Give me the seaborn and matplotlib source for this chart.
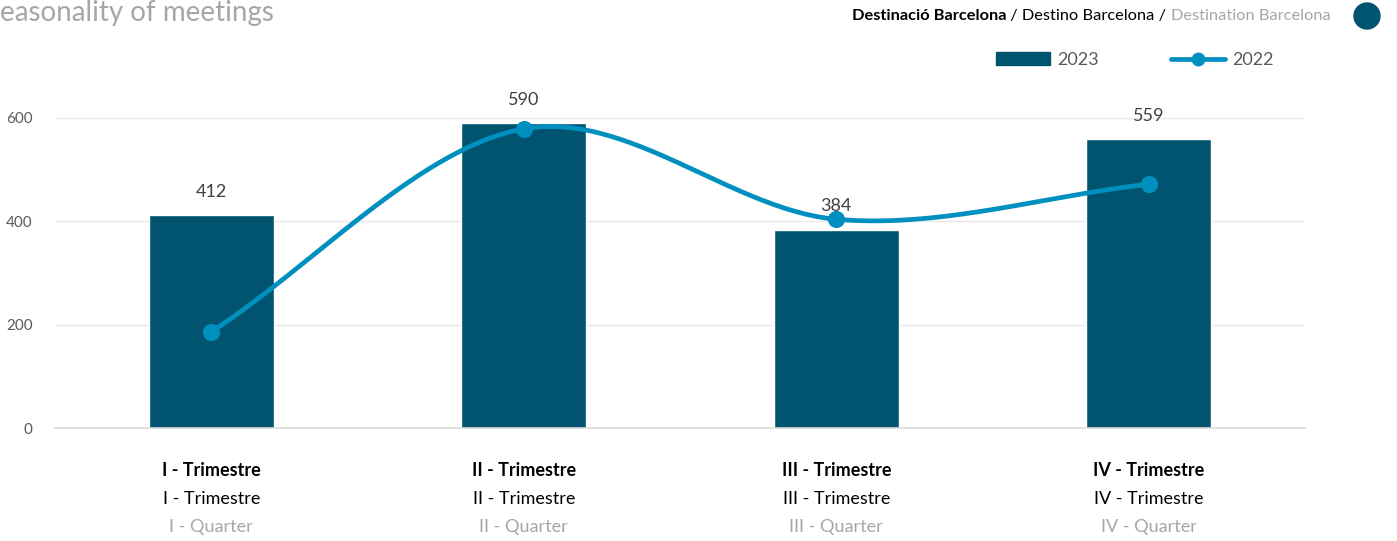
import numpy as np
import pandas as pd
import matplotlib
matplotlib.use("Agg")
import matplotlib.pyplot as plt
import matplotlib.transforms as mtransforms
from matplotlib.lines import Line2D
from matplotlib.patches import Patch, Circle
import seaborn as sns

# Data
quarters = ["I", "II", "III", "IV"]
label_ca = ["I - Trimestre", "II - Trimestre", "III - Trimestre", "IV - Trimestre"]
label_es = ["I - Trimestre", "II - Trimestre", "III - Trimestre", "IV - Trimestre"]
label_en = ["I - Quarter", "II - Quarter", "III - Quarter", "IV - Quarter"]
meetings_2023 = [412, 590, 384, 559]
meetings_2022 = [186, 579, 404, 472]

BAR = "#00546F"
LINE = "#0090C0"
GRAY = "#A6A6A6"
DARK = "#595959"

sns.set_style("white")
plt.rcParams["font.family"] = ["Lato", "DejaVu Sans"]

df = pd.DataFrame({"quarter": quarters, "y2023": meetings_2023, "y2022": meetings_2022})

fig = plt.figure(figsize=(13.97, 5.41), dpi=100)
ax = fig.add_axes([55 / 1397, 1 - 428 / 541, 1250 / 1397, (428 - 66.3) / 541])

sns.barplot(data=df, x="quarter", y="y2023", color=BAR, width=0.4, saturation=1, ax=ax)

# smooth line (Catmull-Rom through the 2022 points, like Excel smoothing)
def smooth(xs, ys, n=60):
    xs = np.asarray(xs, float)
    ys = np.asarray(ys, float)
    px = np.concatenate([[2 * xs[0] - xs[1]], xs, [2 * xs[-1] - xs[-2]]])
    py = np.concatenate([[2 * ys[0] - ys[1]], ys, [2 * ys[-1] - ys[-2]]])
    outx, outy = [], []
    t = np.linspace(0, 1, n)
    for i in range(1, len(px) - 2):
        for p, out in ((px, outx), (py, outy)):
            p0, p1, p2, p3 = p[i - 1], p[i], p[i + 1], p[i + 2]
            out.extend(0.5 * (2 * p1 + (-p0 + p2) * t + (2 * p0 - 5 * p1 + 4 * p2 - p3) * t ** 2
                              + (-p0 + 3 * p1 - 3 * p2 + p3) * t ** 3))
    return np.array(outx), np.array(outy)

xpos = np.arange(len(quarters))
sx, sy = smooth(xpos, meetings_2022)
ax.plot(sx, sy, color=LINE, lw=3.4, solid_capstyle="round", zorder=3)
sns.scatterplot(x=xpos, y=meetings_2022, color=LINE, s=130, edgecolor=LINE, zorder=4, ax=ax)

# data labels for 2023
for x, v in zip(xpos, meetings_2023):
    ax.annotate(str(v), (x, v), xytext=(0, 11), textcoords="offset points",
                ha="center", va="bottom", fontsize=13, color="#404040")

ax.set_xlim(-0.5, 3.5)
ax.set_ylim(0, 700)
ax.set_yticks([0, 200, 400, 600])
ax.tick_params(axis="y", length=0, labelsize=11, labelcolor=DARK, pad=16)
ax.yaxis.grid(True, color="#EAEAEA", lw=1)
ax.set_axisbelow(True)
ax.set_xlabel("")
ax.set_ylabel("")
for s in ["left", "right", "top"]:
    ax.spines[s].set_visible(False)
ax.spines["bottom"].set_color("#D9D9D9")
ax.spines["bottom"].set_linewidth(1.2)
ax.set_xticks(np.arange(-0.5, 4, 1))
ax.set_xticklabels([])
ax.tick_params(axis="x", length=7, color="#D9D9D9", width=1.2)

# three-line category labels
trans = mtransforms.blended_transform_factory(ax.transData, fig.transFigure)
for x, a, b, c in zip(xpos, label_ca, label_es, label_en):
    ax.text(x, 1 - 471 / 541, a, transform=trans, ha="center", va="center",
            fontsize=13, fontweight="bold", color="black")
    ax.text(x, 1 - 499 / 541, b, transform=trans, ha="center", va="center",
            fontsize=13, color="black")
    ax.text(x, 1 - 527 / 541, c, transform=trans, ha="center", va="center",
            fontsize=13, color=GRAY)

# legend
handles = [Patch(color=BAR, label="2023"),
           Line2D([0], [0], color=LINE, lw=3.4, marker="o", markersize=9, label="2022")]
fig.legend(handles=handles, loc="center", bbox_to_anchor=(1135 / 1397, 1 - 60 / 541),
           ncol=2, frameon=False, fontsize=13, handlelength=3.0, columnspacing=4,
           handletextpad=0.4, labelcolor=DARK)

# header
fig.text(0, 1 - 13 / 541, "easonality of meetings", fontsize=20, color=GRAY,
         ha="left", va="center")
t1 = fig.text(852 / 1397, 1 - 16 / 541, "Destinació Barcelona", fontsize=11.8,
              fontweight="bold", color="black", ha="left", va="center")
fig.canvas.draw()
t2 = ax.annotate(" / Destino Barcelona / ", xycoords=t1, xy=(1, 0.5), ha="left",
                 va="center", fontsize=11.8, color="black", annotation_clip=False)
fig.canvas.draw()
ax.annotate("Destination Barcelona", xycoords=t2, xy=(1, 0.5), ha="left",
            va="center", fontsize=11.8, color=GRAY, annotation_clip=False)
fig.patches.append(Circle((1367, 541 - 16), 13, transform=None, color=BAR, figure=fig))

fig.savefig("out.png", dpi=100)
